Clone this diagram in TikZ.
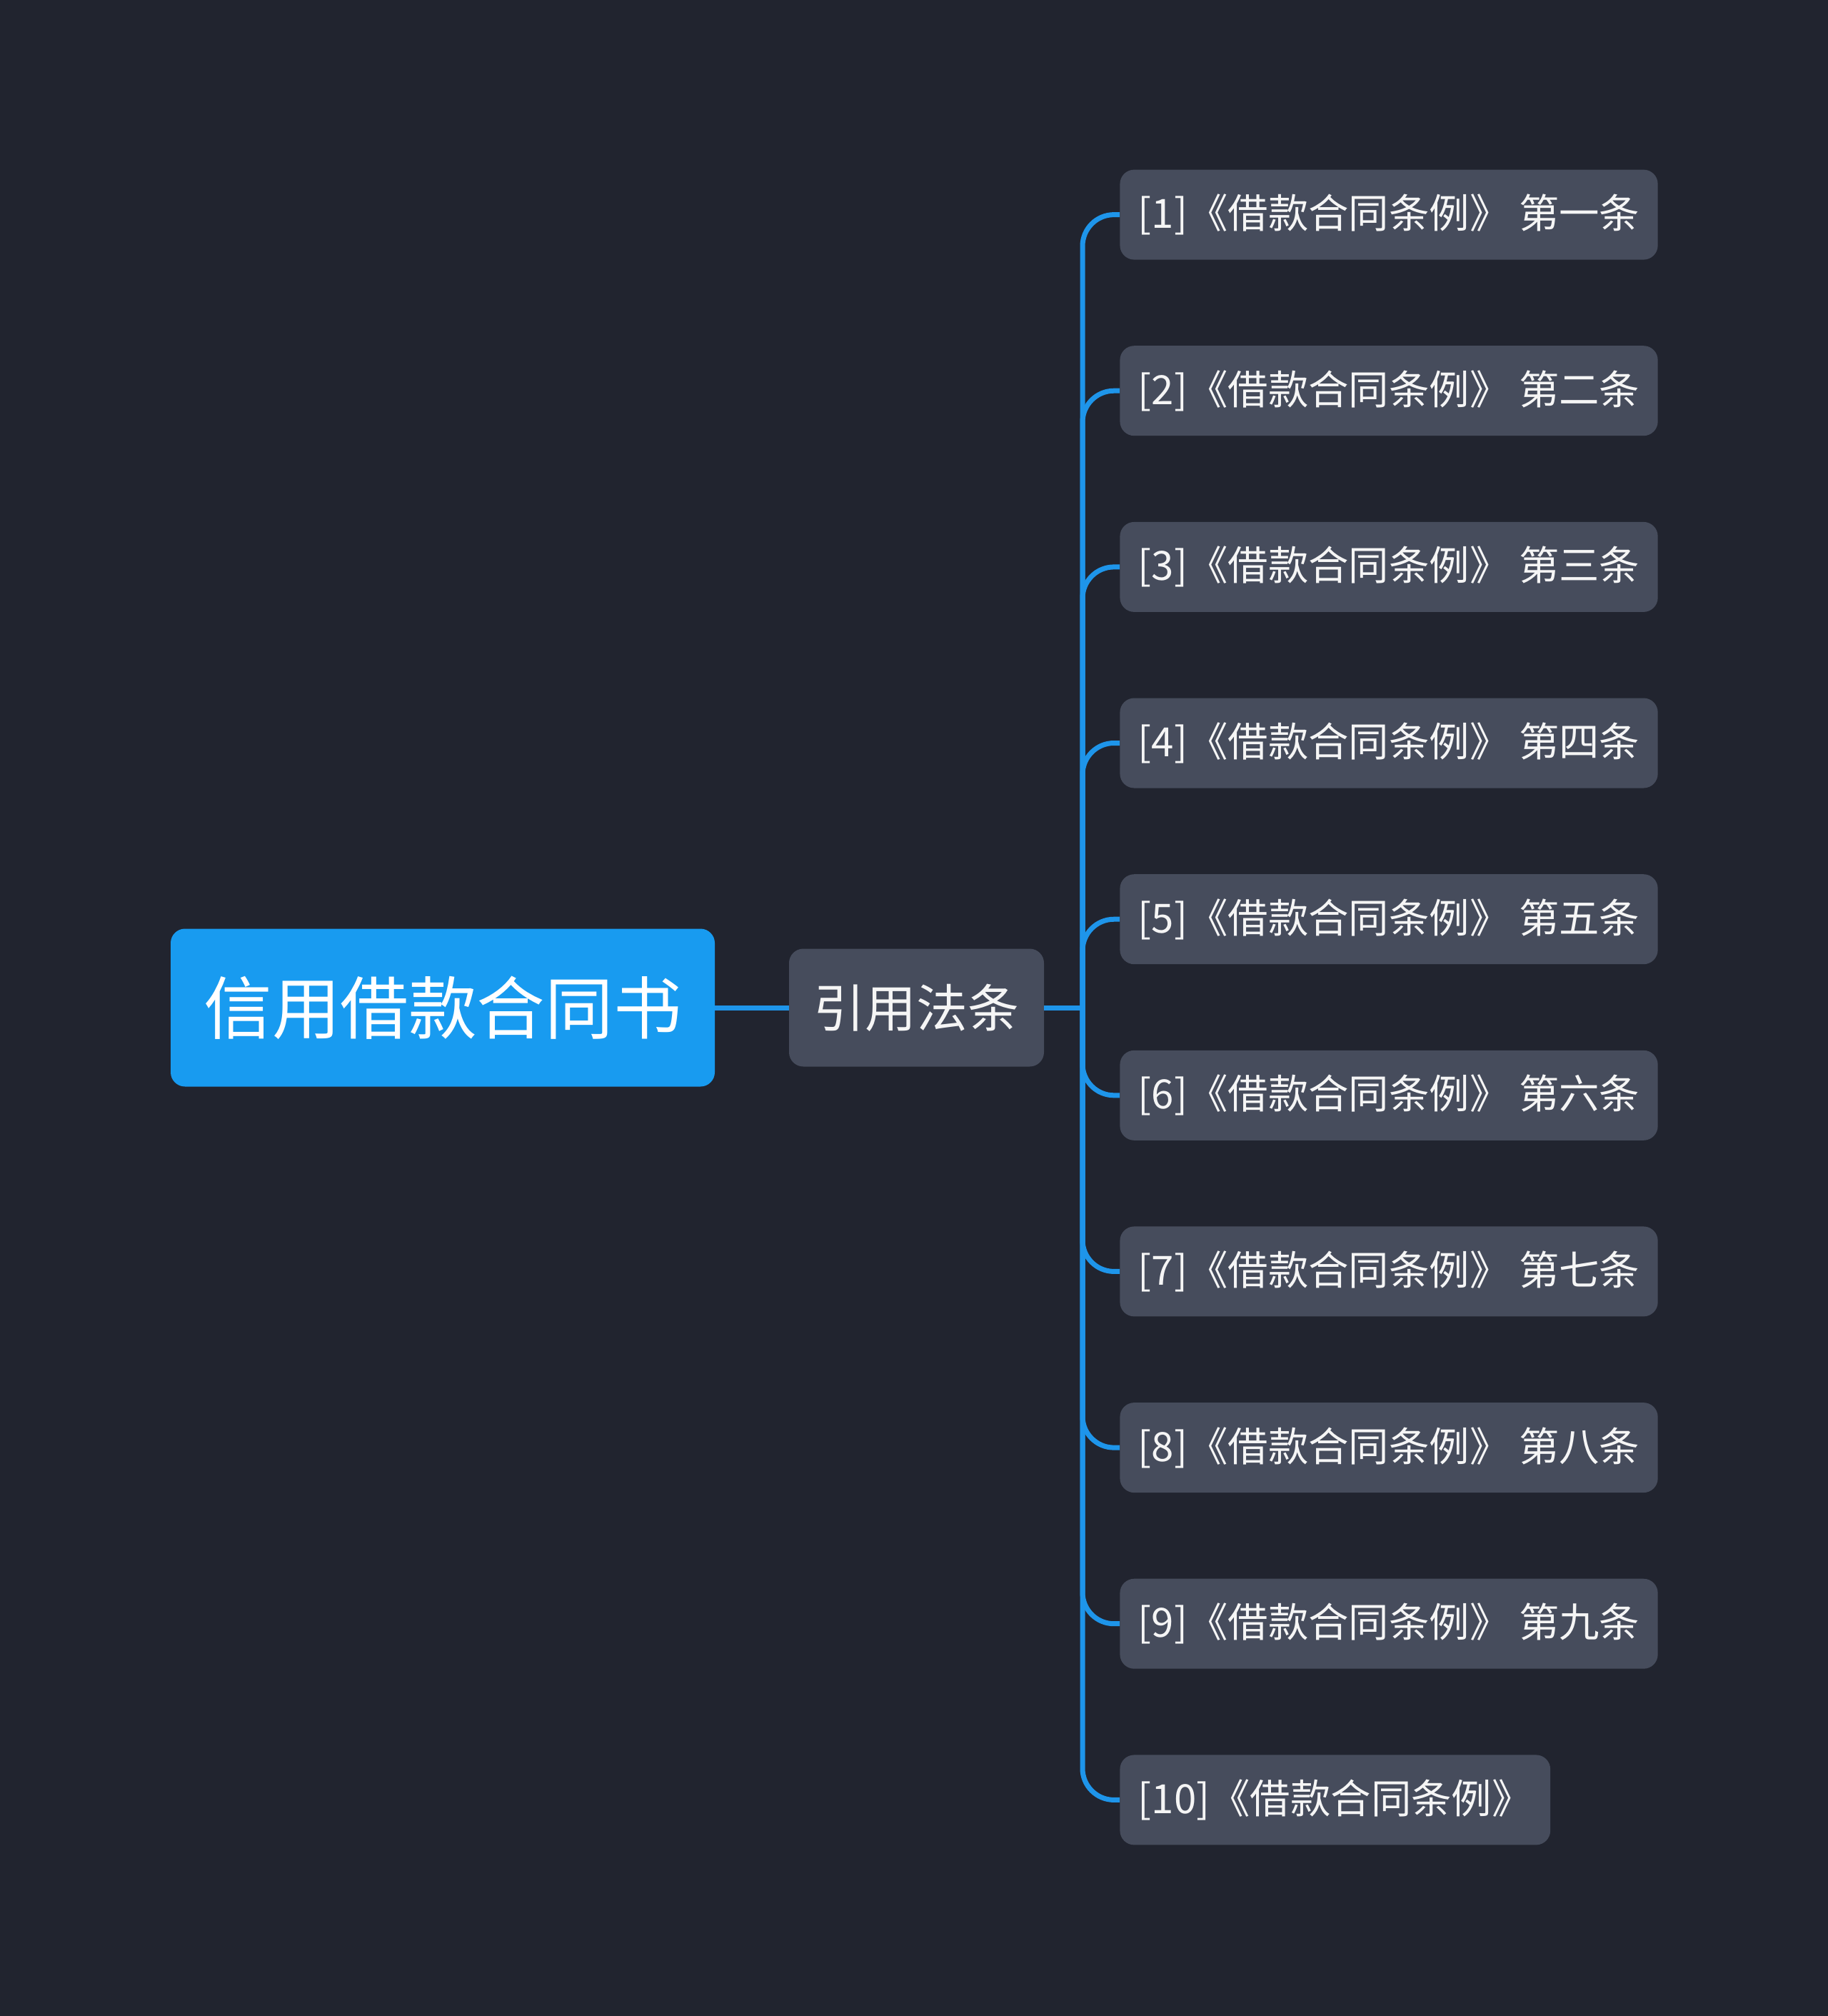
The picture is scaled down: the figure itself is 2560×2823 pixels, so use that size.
\documentclass[tikz,border=0pt]{standalone}
\usepackage{fontspec}
\setmainfont{Noto Sans CJK SC}
\newfontfamily\cjk{Noto Sans CJK SC}
\definecolor{bgc}{HTML}{21242F}
\definecolor{rootc}{HTML}{189BF0}
\definecolor{boxc}{HTML}{464C5C}
\definecolor{linec}{HTML}{1E95EA}
\definecolor{txtc}{HTML}{F5F5F5}
\tikzset{
  rootbox/.style={fill=rootc, rounded corners=10pt, text=white, minimum width=381pt, minimum height=110.5pt, inner sep=0pt, font=\cjk\fontsize{47.8pt}{47.8pt}\selectfont},
  midbox/.style={fill=boxc, rounded corners=10pt, text=txtc, minimum width=178.5pt, minimum height=82.5pt, inner sep=0pt, font=\cjk\fontsize{35.9pt}{35.9pt}\selectfont},
  leafbox/.style={fill=boxc, rounded corners=10pt, text=txtc, anchor=west, minimum height=63pt, inner xsep=12.7pt, inner ysep=0pt, font=\cjk\fontsize{28.2pt}{28.2pt}\selectfont},
  conn/.style={draw=linec, line width=3.5pt, rounded corners=22pt}
}
\begin{document}
\begin{tikzpicture}[x=0.5pt,y=-0.5pt]
\fill[bgc] (0,0) rectangle (2560,2823);
\useasboundingbox (0,0) rectangle (2560,2823);
\node[rootbox] (root) at (620,1411) {信用借款合同书};
\node[midbox] (mid) at (1283.5,1411) {引用法条};
\coordinate (hub) at (1516,1411);
\node[leafbox] (l1) at (1568,300.6) {[1]《借款合同条例》 第一条};
\node[leafbox] (l2) at (1568,547.2) {[2]《借款合同条例》 第二条};
\node[leafbox] (l3) at (1568,793.9) {[3]《借款合同条例》 第三条};
\node[leafbox] (l4) at (1568,1040.5) {[4]《借款合同条例》 第四条};
\node[leafbox] (l5) at (1568,1287.2) {[5]《借款合同条例》 第五条};
\node[leafbox] (l6) at (1568,1533.8) {[6]《借款合同条例》 第六条};
\node[leafbox] (l7) at (1568,1780.4) {[7]《借款合同条例》 第七条};
\node[leafbox] (l8) at (1568,2027.1) {[8]《借款合同条例》 第八条};
\node[leafbox] (l9) at (1568,2273.7) {[9]《借款合同条例》 第九条};
\node[leafbox] (l10) at (1568,2520.4) {[10]《借款合同条例》};
\draw[conn] (root.east) -- (mid.west);
\draw[conn] (mid.east) -- (hub);
\foreach \n in {l1,l2,l3,l4,l5,l6,l7,l8,l9,l10}{
  \draw[conn] (hub) |- (\n.west);
}
\end{tikzpicture}
\end{document}
